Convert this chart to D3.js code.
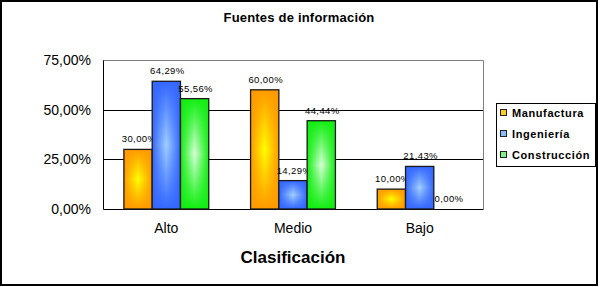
<!DOCTYPE html>
<html>
<head>
<meta charset="utf-8">
<script src="https://cdn.jsdelivr.net/npm/d3@7"></script>
<style>
  body { margin: 0; background: #fff; }
  svg { display: block; font-family: "Liberation Sans", Arial, sans-serif; }
</style>
</head>
<body>
<div id="wrapper"></div>
<script>
// DATA
const categories = ["Alto", "Medio", "Bajo"];
const series = ["Manufactura", "Ingeniería", "Construcción"];
const manufactura = [30.00, 60.00, 10.00];
const ingenieria = [64.29, 14.29, 21.43];
const construccion = [55.56, 44.44, 0.00];
const yTicks = [0, 25, 50, 75];

const values = [manufactura, ingenieria, construccion];
const colors = [
  { edge: "#ff9900", center: "#ffff00", swatch: "#ffcc22" },
  { edge: "#3366ff", center: "#a0d0ff", swatch: "#88bbff" },
  { edge: "#11ee11", center: "#d8ffd8", swatch: "#88ee88" }
];

const W = 600, H = 287;
const plot = { left: 103, right: 483, top: 60, bottom: 209 };

const svg = d3.select("#wrapper").append("svg")
  .attr("width", W).attr("height", H);

// GRADIENTS (horizontal base + vertical overlay ~ "from center" fill)
const defs = svg.append("defs");
colors.forEach((c, i) => {
  const h = defs.append("linearGradient").attr("id", "h" + i)
    .attr("x1", 0).attr("x2", 1).attr("y1", 0).attr("y2", 0);
  h.append("stop").attr("offset", 0).attr("stop-color", c.edge);
  h.append("stop").attr("offset", 0.5).attr("stop-color", c.center);
  h.append("stop").attr("offset", 1).attr("stop-color", c.edge);
  const v = defs.append("linearGradient").attr("id", "v" + i)
    .attr("x1", 0).attr("x2", 0).attr("y1", 0).attr("y2", 1);
  v.append("stop").attr("offset", 0).attr("stop-color", c.edge).attr("stop-opacity", 1);
  v.append("stop").attr("offset", 0.5).attr("stop-color", c.edge).attr("stop-opacity", 0);
  v.append("stop").attr("offset", 1).attr("stop-color", c.edge).attr("stop-opacity", 1);
});

// outer border
svg.append("rect")
  .attr("x", 1).attr("y", 1).attr("width", 596).attr("height", 284)
  .attr("fill", "#fff").attr("stroke", "#000").attr("stroke-width", 2);

// SCALES
const x0 = d3.scaleBand().domain(categories)
  .range([plot.left, plot.right]).paddingInner(0.33).paddingOuter(0.165);
const x1 = d3.scaleBand().domain(d3.range(series.length))
  .range([0, x0.bandwidth()]);
const y = d3.scaleLinear().domain([0, 75]).range([plot.bottom, plot.top]);

// plot frame (gray top/right)
svg.append("path")
  .attr("d", `M${plot.left},${plot.top + 0.5}H${plot.right + 0.5}V${plot.bottom}`)
  .attr("fill", "none").attr("stroke", "#808080");

// GRIDLINES
svg.append("g").selectAll("line")
  .data(yTicks.filter(d => d > 0 && d < 75))
  .join("line")
  .attr("x1", plot.left).attr("x2", plot.right)
  .attr("y1", d => Math.round(y(d)) + 0.5).attr("y2", d => Math.round(y(d)) + 0.5)
  .attr("stroke", "#000");

// Y AXIS
const fmt = d => d3.format(".2f")(d).replace(".", ",") + "%";
const yAxis = svg.append("g")
  .attr("transform", `translate(${plot.left},0)`)
  .call(d3.axisLeft(y).tickValues(yTicks).tickFormat(fmt).tickSize(0).tickPadding(12));
yAxis.select(".domain").attr("stroke", "#000");
yAxis.selectAll("text").attr("font-size", 14).attr("fill", "#000")
  .attr("font-family", "Liberation Sans, Arial, sans-serif");

// X AXIS
const xAxis = svg.append("g")
  .attr("transform", `translate(0,${plot.bottom})`)
  .call(d3.axisBottom(x0).tickSize(0).tickPadding(14));
xAxis.select(".domain").attr("stroke", "#000");
xAxis.selectAll("text").attr("font-size", 14).attr("fill", "#000")
  .attr("font-family", "Liberation Sans, Arial, sans-serif");

// BARS + LABELS (series by series so later bars cover earlier labels)
values.forEach((vals, s) => {
  const g = svg.append("g");
  const bars = g.selectAll("g.bar")
    .data(vals.map((v, i) => ({ v: v, cat: categories[i] })))
    .join("g").attr("class", "bar");
  bars.filter(d => d.v > 0).append("rect")
    .attr("x", d => x0(d.cat) + x1(s))
    .attr("y", d => y(d.v))
    .attr("width", x1.bandwidth())
    .attr("height", d => y(0) - y(d.v))
    .attr("fill", `url(#h${s})`);
  bars.filter(d => d.v > 0).append("rect")
    .attr("x", d => x0(d.cat) + x1(s))
    .attr("y", d => y(d.v))
    .attr("width", x1.bandwidth())
    .attr("height", d => y(0) - y(d.v))
    .attr("fill", `url(#v${s})`)
    .attr("stroke", "#1a1a1a").attr("stroke-width", 1.3);
  bars.append("text")
    .attr("x", d => x0(d.cat) + x1(s) + x1.bandwidth() / 2 + 1)
    .attr("y", d => y(d.v) - 7)
    .attr("text-anchor", "middle")
    .attr("font-size", 9.5).attr("letter-spacing", 0.4)
    .attr("fill", "#000")
    .text(d => fmt(d.v));
});

// TITLES
svg.append("text")
  .attr("x", 299).attr("y", 22)
  .attr("text-anchor", "middle")
  .attr("font-size", 13).attr("font-weight", "bold").attr("letter-spacing", 0.2)
  .text("Fuentes de información");

svg.append("text")
  .attr("x", (plot.left + plot.right) / 2).attr("y", 263)
  .attr("text-anchor", "middle")
  .attr("font-size", 17).attr("font-weight", "bold")
  .text("Clasificación");

// LEGEND
const legend = svg.append("g");
legend.append("rect")
  .attr("x", 496.5).attr("y", 103.5).attr("width", 99).attr("height", 63)
  .attr("fill", "#fff").attr("stroke", "#000");
const items = legend.selectAll("g.item").data(series).join("g")
  .attr("class", "item")
  .attr("transform", (d, i) => `translate(500,${113 + i * 21})`);
items.append("rect")
  .attr("x", 0.5).attr("y", -3.5).attr("width", 6).attr("height", 6)
  .attr("fill", (d, i) => colors[i].swatch)
  .attr("stroke", "#222").attr("stroke-width", 1);
items.append("text")
  .attr("x", 12).attr("y", 4)
  .attr("font-size", 11).attr("font-weight", "bold").attr("letter-spacing", 0.6)
  .text(d => d);
</script>
</body>
</html>
